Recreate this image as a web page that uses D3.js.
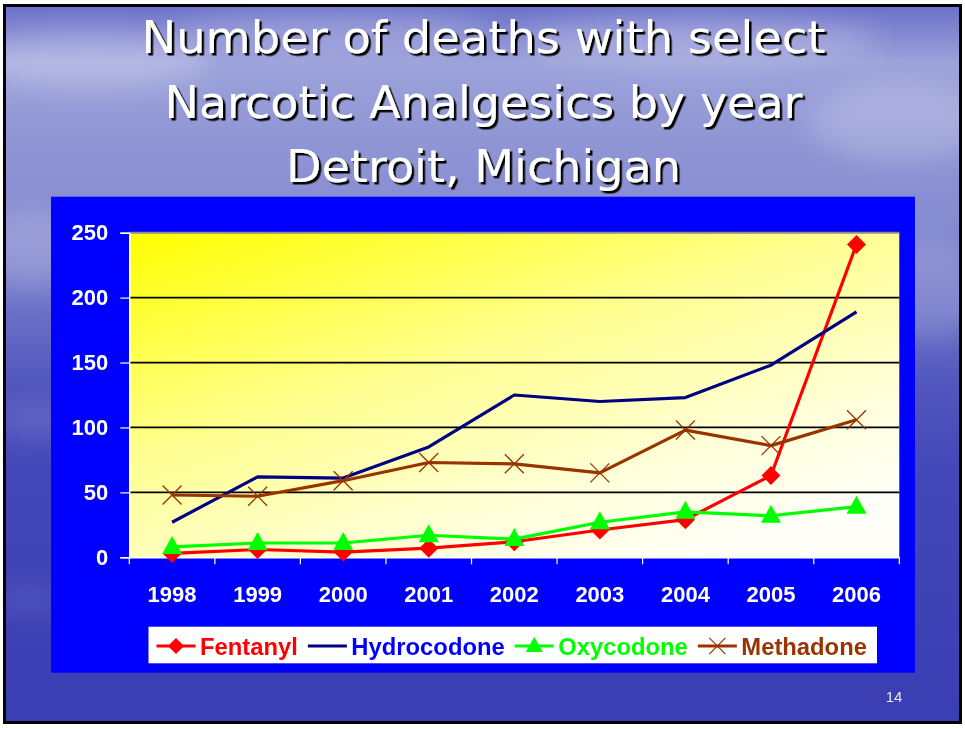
<!DOCTYPE html>
<html>
<head>
<meta charset="utf-8">
<script src="https://cdn.jsdelivr.net/npm/d3@7"></script>
<style>
  body { margin: 0; background: #fff; }
  svg { display: block; }
</style>
</head>
<body>
<div id="app"></div>
<script>
// chart data
let years = ['1998', '1999', '2000', '2001', '2002', '2003', '2004', '2005', '2006'];
let fentanyl = [3, 6, 4, 7, 12, 21, 29, 63, 241];
let hydrocodone = [27, 62, 61, 85, 125, 120, 123, 148, 189];
let oxycodone = [8, 11, 11, 17, 14, 27, 35, 32, 39];
let methadone = [48, 47, 59, 73, 72, 65, 98, 86, 106];
let yTicks = [0, 50, 100, 150, 200, 250];
let titleLines = ['Number of deaths with select', 'Narcotic Analgesics by year', 'Detroit, Michigan'];

let series = [
    {name: 'Fentanyl', values: fentanyl, color: '#ff0000', text: '#ff0000', marker: 'diamond'},
    {name: 'Hydrocodone', values: hydrocodone, color: '#000080', text: '#0000ff', marker: 'none'},
    {name: 'Oxycodone', values: oxycodone, color: '#00ff00', text: '#00ff00', marker: 'triangle'},
    {name: 'Methadone', values: methadone, color: '#993300', text: '#993300', marker: 'cross'}
];

let svgWidth = 965, svgHeight = 730;
let plot = {left: 129.3, right: 899.3, top: 232.7, bottom: 557.3};

let svg = d3.select('#app').append('svg')
    .attr('width', svgWidth)
    .attr('height', svgHeight);

let defs = svg.append('defs');

        //sky / sea background
let sky = defs.append('linearGradient').attr('id', 'sky')
    .attr('x1', 0).attr('y1', 0).attr('x2', 0).attr('y2', 1);
[['0', '#6a6fc8'], ['0.08', '#9ca2da'], ['0.2', '#8f95d4'], ['0.3', '#858bd0'],
 ['0.42', '#6c72c7'], ['0.52', '#5358be'], ['0.65', '#4347b8'], ['1', '#3a3eb3']]
    .forEach(s => sky.append('stop').attr('offset', s[0]).attr('stop-color', s[1]));

let plotFill = defs.append('linearGradient').attr('id', 'plotFill')
    .attr('x1', 0).attr('y1', 0).attr('x2', 0.75).attr('y2', 1);
[['0', '#ffff00'], ['0.45', '#ffff90'], ['0.8', '#ffffdc'], ['1', '#fffff8']]
    .forEach(s => plotFill.append('stop').attr('offset', s[0]).attr('stop-color', s[1]));

defs.append('filter').attr('id', 'blur')
    .attr('x', '-50%').attr('y', '-50%').attr('width', '200%').attr('height', '200%')
    .append('feGaussianBlur').attr('stdDeviation', 14);

        //title shadow, down and to the right
defs.append('filter').attr('id', 'shadow')
    .attr('x', '-5%').attr('y', '-20%').attr('width', '110%').attr('height', '140%')
    .append('feDropShadow')
        .attr('dx', 2.5).attr('dy', 2.5)
        .attr('stdDeviation', 0.3)
        .attr('flood-color', '#000')
        .attr('flood-opacity', 1);

svg.append('rect')
    .attr('x', 4).attr('y', 5)
    .attr('width', 957).attr('height', 719)
    .attr('fill', 'url(#sky)');

        //soft clouds and water streaks
let clouds = svg.append('g').attr('filter', 'url(#blur)');
[[90, 60, 120, 28, 0.25], [330, 30, 160, 20, 0.2], [700, 40, 180, 25, 0.22], [900, 120, 90, 40, 0.2],
 [30, 250, 50, 40, 0.2], [930, 290, 60, 50, 0.15], [40, 420, 50, 16, 0.12], [30, 600, 40, 10, 0.12]]
    .forEach(c => clouds.append('ellipse')
        .attr('cx', c[0]).attr('cy', c[1]).attr('rx', c[2]).attr('ry', c[3])
        .attr('fill', '#ffffff').attr('opacity', c[4]));

        //slide frame
svg.append('rect')
    .attr('x', 4.5).attr('y', 5.5)
    .attr('width', 956).attr('height', 717)
    .attr('fill', 'none')
    .attr('stroke', '#000')
    .attr('stroke-width', 3);

        //title
let titleBase = [53, 118, 182];
let titleWidth = [684, 638, 395];
let title = svg.append('g').attr('filter', 'url(#shadow)');
titleLines.forEach((t, i) => {
    title.append('text')
        .attr('x', 483.5 - titleWidth[i] / 2)
        .attr('y', titleBase[i])
        .attr('textLength', titleWidth[i])
        .attr('lengthAdjust', 'spacingAndGlyphs')
        .attr('font-family', 'DejaVu Sans, Verdana, sans-serif')
        .attr('font-size', 44)
        .attr('fill', '#fff')
        .text(t);
});

        //blue chart box
svg.append('rect')
    .attr('x', 51).attr('y', 196.7)
    .attr('width', 864).attr('height', 476)
    .attr('fill', '#0000ff');

svg.append('rect')
    .attr('x', plot.left).attr('y', plot.top)
    .attr('width', plot.right - plot.left).attr('height', plot.bottom - plot.top)
    .attr('fill', 'url(#plotFill)');

let x = d3.scaleBand().domain(years).range([plot.left, plot.right]);
let y = d3.scaleLinear().domain([0, 250]).range([plot.bottom, plot.top]);

        //gridlines
svg.append('g')
    .selectAll('line')
    .data(yTicks.filter(d => d > 0))
    .enter().append('line')
        .attr('x1', plot.left).attr('x2', plot.right)
        .attr('y1', d => y(d)).attr('y2', d => y(d))
        .attr('stroke', d => d === 250 ? '#8c8c8c' : '#000')
        .attr('stroke-width', d => d === 250 ? 2 : 1.8);

        //y axis
let yAxis = svg.append('g')
    .attr('transform', `translate(${plot.left},0)`)
    .call(d3.axisLeft(y).tickValues(yTicks).tickSize(9).tickPadding(12));
yAxis.select('.domain').attr('stroke', '#fff').attr('stroke-width', 1.5);
yAxis.selectAll('.tick line').attr('stroke', '#fff').attr('stroke-width', 1.2);
yAxis.selectAll('.tick text')
    .attr('fill', '#fff')
    .attr('font-family', 'Liberation Sans, Arial, sans-serif')
    .attr('font-weight', 'bold')
    .attr('font-size', 22);

        //x axis: labels at band centres, ticks on band edges
let xAxis = svg.append('g')
    .attr('transform', `translate(0,${plot.bottom})`)
    .call(d3.axisBottom(x).tickSize(0).tickPadding(29));
xAxis.select('.domain').attr('stroke', '#fff').attr('stroke-width', 1.5);
xAxis.selectAll('.tick text')
    .attr('fill', '#fff')
    .attr('font-family', 'Liberation Sans, Arial, sans-serif')
    .attr('font-weight', 'bold')
    .attr('font-size', 22);
xAxis.selectAll('line.edge')
    .data(years.map(d => x(d)).concat([plot.right]))
    .enter().append('line')
        .attr('class', 'edge')
        .attr('x1', d => d).attr('x2', d => d)
        .attr('y1', 0).attr('y2', 7)
        .attr('stroke', '#fff')
        .attr('stroke-width', 1.2);

function markerPath(type) {
    if (type === 'diamond') return 'M0,-9.5L9.5,0L0,9.5L-9.5,0Z';
    if (type === 'triangle') return 'M0,-11L10,7L-10,7Z';
    if (type === 'cross') return 'M-9.5,-9.5L9.5,9.5M-9.5,9.5L9.5,-9.5';
    return null;
}

let line = d3.line()
    .x((d, i) => x(years[i]) + x.bandwidth() / 2)
    .y(d => y(d));

        //series lines and markers
series.forEach(s => {
    let g = svg.append('g');
    g.append('path')
        .attr('d', line(s.values))
        .attr('fill', 'none')
        .attr('stroke', s.color)
        .attr('stroke-width', 3.2)
        .attr('stroke-linejoin', 'round');

    if (s.marker === 'none') return;
    g.selectAll('path.mark')
        .data(s.values)
        .enter().append('path')
            .attr('class', 'mark')
            .attr('d', markerPath(s.marker))
            .attr('transform', (d, i) => `translate(${x(years[i]) + x.bandwidth() / 2},${y(d)})`)
            .attr('fill', s.marker === 'cross' ? 'none' : s.color)
            .attr('stroke', s.color)
            .attr('stroke-width', s.marker === 'cross' ? 1.3 : 0);
});

        //legend
let legend = svg.append('g');
legend.append('rect')
    .attr('x', 148.5).attr('y', 626.7)
    .attr('width', 728.5).attr('height', 36.6)
    .attr('fill', '#fff');

let lx = 156.5;
series.forEach(s => {
    let cy = 646;
    legend.append('line')
        .attr('x1', lx).attr('x2', lx + 39)
        .attr('y1', cy).attr('y2', cy)
        .attr('stroke', s.color)
        .attr('stroke-width', 3.2);
    if (s.marker !== 'none') {
        legend.append('path')
            .attr('d', markerPath(s.marker))
            .attr('transform', `translate(${lx + 19.5},${cy}) scale(0.85)`)
            .attr('fill', s.marker === 'cross' ? 'none' : s.color)
            .attr('stroke', s.color)
            .attr('stroke-width', s.marker === 'cross' ? 1.4 : 0);
    }
    let t = legend.append('text')
        .attr('x', lx + 43.5)
        .attr('y', cy + 8.5)
        .attr('fill', s.text)
        .attr('font-family', 'Liberation Sans, Arial, sans-serif')
        .attr('font-weight', 'bold')
        .attr('font-size', 23.8)
        .text(s.name);
    lx += 43.5 + t.node().getComputedTextLength() + 10;
});

        //slide number
svg.append('text')
    .attr('x', 894).attr('y', 702)
    .attr('text-anchor', 'middle')
    .attr('fill', '#e8e8f4')
    .attr('font-family', 'Liberation Sans, Arial, sans-serif')
    .attr('font-size', 15)
    .text('14');
</script>
</body>
</html>
